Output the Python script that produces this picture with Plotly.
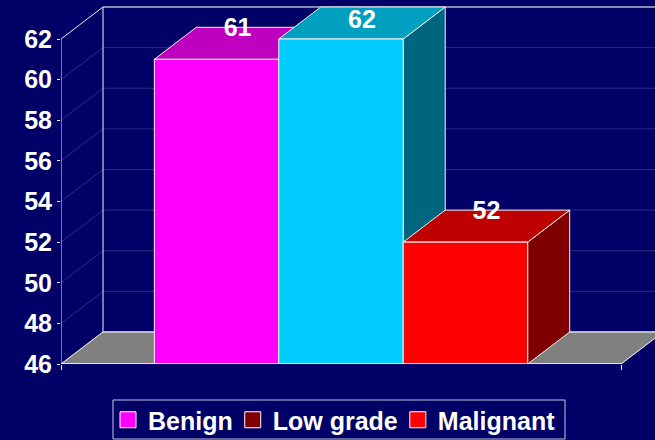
import plotly.graph_objects as go

categories = ["Benign", "Low grade", "Malignant"]
values = [61, 62, 52]
labels = ["61", "62", "52"]
legend_colors = ["#ff00ff", "#800000", "#ff0000"]
front_colors = ["#ff00ff", "#00ccff", "#ff0000"]
top_colors = ["#bf00bf", "#009fbf", "#bf0000"]
side_colors = ["#800080", "#006680", "#800000"]
y_ticks = [46, 48, 50, 52, 54, 56, 58, 60, 62]

W, H = 655, 440
L, R, T, B = 61, 655, 6, 364
Y0, Y1 = 46, 62
px_per_unit = (B - 39) / (Y1 - Y0)
X0, X1 = -1.25, 3.25
px_per_x = (621 - L) / (X1 - X0)
DX = 42 / px_per_x
DY = 32 / px_per_unit
LABEL_DROP = 2.5 / px_per_unit
x_range = [X0, X0 + (R - L) / px_per_x]
y_range = [Y0, Y0 + (B - T) / px_per_unit]
FONT = "Liberation Sans, Arial, sans-serif"
EDGE = "#f2f2f2"
GRID = "#2c2c84"
BG = "#000066"

fig = go.Figure()


def poly(xs, ys, fill, line=EDGE, width=1):
    fig.add_trace(go.Scatter(x=xs, y=ys, mode="lines", fill="toself", fillcolor=fill,
                             line=dict(color=line, width=width), showlegend=False,
                             hoverinfo="skip", cliponaxis=True))


def seg(xs, ys, color, width=1):
    fig.add_trace(go.Scatter(x=xs, y=ys, mode="lines", line=dict(color=color, width=width),
                             showlegend=False, hoverinfo="skip", cliponaxis=False))


# floor
poly([X0, X0 + DX, X1 + DX, X1, X0], [Y0, Y0 + DY, Y0 + DY, Y0, Y0], "#808080", "#808080")

# gridlines on side wall and back wall
for t in y_ticks[1:-1]:
    seg([X0, X0 + DX, x_range[1]], [t, t + DY, t + DY], GRID)
seg([X0, X0 + DX], [Y1, Y1 + DY], EDGE)
seg([X0 + DX, x_range[1]], [Y1 + DY, Y1 + DY], "#b4b4cc", 1.5)
seg([X0 + DX, X0 + DX], [Y0 + DY, Y1 + DY], EDGE)
seg([X0, X0 + DX], [Y0, Y0 + DY], EDGE)
seg([X0 + DX, x_range[1]], [Y0 + DY, Y0 + DY], "#d8d8e0", 1.5)
seg([X1, X1 + DX], [Y0, Y0 + DY], EDGE)
seg([X0, X0], [Y0, Y1], EDGE)

# 3-D bars, painted left to right
for i, v in enumerate(values):
    a, b = i - 0.5, i + 0.5
    poly([b, b + DX, b + DX, b, b], [Y0, Y0 + DY, v + DY, v, Y0], side_colors[i])
    poly([a, b, b + DX, a + DX, a], [v, v, v + DY, v + DY, v], top_colors[i])
    poly([a, b, b, a, a], [Y0, Y0, v, v, Y0], front_colors[i])

seg([X0, X1], [Y0, Y0], "#e6e6e6", 2)

# value labels sit on the top face, kept inside the plot
fig.add_trace(go.Scatter(
    x=[i + DX / 2 for i in range(len(values))],
    y=[min(v + DY, Y1 + 0.98) - LABEL_DROP for v in values],
    mode="text", text=labels, textposition="middle center",
    textfont=dict(family=FONT, size=25, color="white", weight="bold"),
    showlegend=False, hoverinfo="skip", cliponaxis=False))

# legend entries
for name, color in zip(categories, legend_colors):
    fig.add_trace(go.Scatter(x=[None], y=[None], mode="markers", name=name,
                             marker=dict(symbol="square", size=16, color=color,
                                         line=dict(color="white", width=1))))

fig.update_layout(
    width=W, height=H,
    margin=dict(l=L, r=W - R, t=T, b=H - B, pad=0),
    paper_bgcolor=BG, plot_bgcolor=BG,
    font=dict(family=FONT, color="white"),
    xaxis=dict(range=x_range, showgrid=False, zeroline=False, showline=False,
               tickmode="array", tickvals=[X0, X1], ticks="outside", ticklen=5,
               tickcolor=EDGE, showticklabels=False),
    yaxis=dict(range=y_range, showgrid=False, zeroline=False, showline=False,
               tickmode="array", tickvals=y_ticks, ticks="outside", ticklen=3,
               tickcolor=EDGE,
               tickfont=dict(family=FONT, size=25, color="white", weight="bold")),
    legend=dict(orientation="h", xref="container", yref="container",
                x=113 / W, xanchor="left", y=1 - 397 / H, yanchor="top",
                bgcolor="rgba(0,0,0,0)", borderwidth=0, indentation=-5,
                font=dict(family=FONT, size=25, color="white", weight="bold"),
                itemwidth=30),
    shapes=[dict(type="rect", xref="paper", yref="paper",
                 x0=(113 - L) / (R - L), x1=(565 - L) / (R - L),
                 y0=(B - 439) / (B - T), y1=(B - 400) / (B - T),
                 line=dict(color="#c8c8dc", width=1), fillcolor="rgba(0,0,0,0)")],
)
fig.write_html("out.html", config={"displayModeBar": False},
               post_script="document.documentElement.style.background='#000066';document.body.style.margin='0';document.body.style.background='#000066';document.body.style.overflow='hidden';")
